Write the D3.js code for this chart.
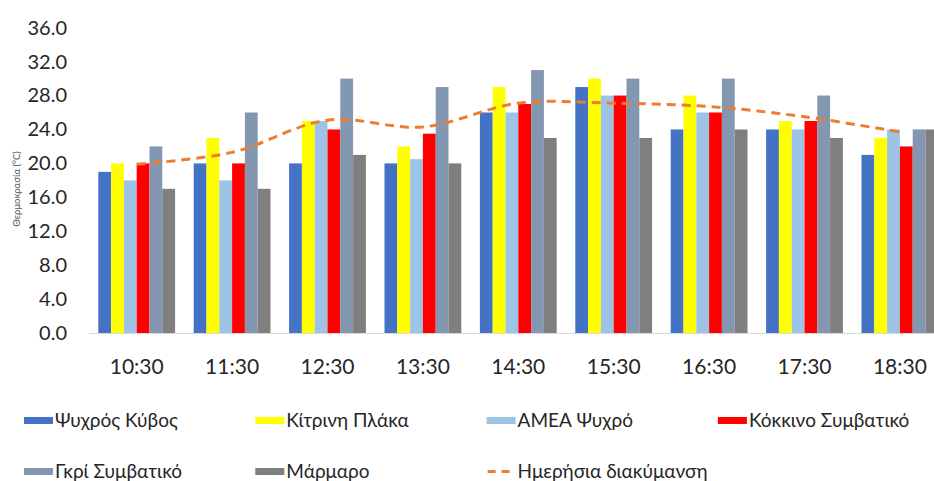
<!DOCTYPE html>
<html>
<head>
<meta charset="utf-8">
<script src="https://cdn.jsdelivr.net/npm/d3@7/dist/d3.min.js"></script>
<style>
  html, body { margin: 0; padding: 0; background: #fff; }
  svg { display: block; }
  text { font-family: Lato, "Noto Sans", sans-serif; fill: #262626; }
</style>
</head>
<body>
<svg id="chart" width="934" height="481"></svg>
<script>
// Hourly surface temperatures per material
const times = ["10:30", "11:30", "12:30", "13:30", "14:30", "15:30", "16:30", "17:30", "18:30"];
const seriesNames = ["Ψυχρός Κύβος", "Κίτρινη Πλάκα", "ΑΜΕΑ Ψυχρό", "Κόκκινο Συμβατικό", "Γκρί Συμβατικό", "Μάρμαρο"];
const psychrosKyvos    = [19, 20, 20, 20, 26, 29, 24, 24, 21];
const kitriniPlaka     = [20, 23, 25, 22, 29, 30, 28, 25, 23];
const ameaPsychro      = [18, 18, 25, 20.5, 26, 28, 26, 24, 24];
const kokkinoSymvatiko = [20, 20, 24, 23.5, 27, 28, 26, 25, 22];
const gkriSymvatiko    = [22, 26, 30, 29, 31, 30, 30, 28, 24];
const marmaro          = [17, 17, 21, 20, 23, 23, 24, 23, 24];
const imerisiaDiakymansi = [19.9, 21.3, 25.1, 24.3, 27.1, 27.1, 26.7, 25.5, 23.7];
const lineName = "Ημερήσια διακύμανση";
const yTicks = [0, 4, 8, 12, 16, 20, 24, 28, 32, 36];
const yTitle = "Θερμοκρασία (°C)";

const colors = ["#4472C4", "#FFFF00", "#9DC3E6", "#FF0000", "#8497B0", "#7F7F7F"];
const lineColor = "#ED7D31";

const seriesValues = [psychrosKyvos, kitriniPlaka, ameaPsychro, kokkinoSymvatiko, gkriSymvatiko, marmaro];
const table = times.map((t, i) => ({ time: t, values: seriesValues.map(s => s[i]) }));

const svg = d3.select("#chart");

const x0 = d3.scaleBand().domain(times).range([89, 947.6]).paddingInner(0.195).paddingOuter(0.0975);
const x1 = d3.scaleBand().domain(d3.range(seriesNames.length)).range([0, x0.bandwidth()]);
const y = d3.scaleLinear().domain([0, 36]).range([333, 27.7]);

// Y axis labels
const yAxis = svg.append("g").attr("transform", "translate(67,0)")
  .call(d3.axisLeft(y).tickValues(yTicks).tickFormat(d3.format(".1f")).tickSize(0).tickPadding(0));
yAxis.select(".domain").remove();
yAxis.selectAll("text").style("font-size", "20px").style("font-family", "Lato, 'Noto Sans', sans-serif").attr("fill", "#262626");

// Y title
svg.append("text")
  .attr("transform", "translate(20,189) rotate(-90)")
  .attr("text-anchor", "middle")
  .style("font-size", "9.5px")
  .style("fill", "#595959")
  .text(yTitle);

// Bars
const groups = svg.append("g").selectAll("g").data(table).join("g")
  .attr("transform", d => `translate(${x0(d.time)},0)`);
groups.selectAll("rect").data(d => d.values).join("rect")
  .attr("x", (d, i) => x1(i))
  .attr("width", x1.bandwidth())
  .attr("y", d => y(d))
  .attr("height", d => y(0) - y(d))
  .attr("fill", (d, i) => colors[i]);

// X axis
const xAxis = svg.append("g").attr("transform", `translate(0,${y(0)})`)
  .call(d3.axisBottom(x0).tickSize(0).tickPadding(26));
xAxis.select(".domain").attr("stroke", "#D9D9D9").attr("d", `M89,0.5H960`);
xAxis.selectAll("text").style("font-size", "21px").style("font-family", "Lato, 'Noto Sans', sans-serif").attr("fill", "#262626");

// Daily trend line
const line = d3.line()
  .x((d, i) => x0(times[i]) + x0.bandwidth() / 2)
  .y(d => y(d))
  .curve(d3.curveCatmullRom.alpha(0.5));
svg.append("path")
  .datum(imerisiaDiakymansi)
  .attr("d", line)
  .attr("fill", "none")
  .attr("stroke", lineColor)
  .attr("stroke-width", 3)
  .attr("stroke-dasharray", "9,6");

// Legend
const legendItems = seriesNames.map((n, i) => ({ name: n, color: colors[i], type: "rect" }))
  .concat([{ name: lineName, color: lineColor, type: "line" }]);
const colStep = 231.3, rowStep = 51;
const legend = svg.append("g").attr("transform", "translate(24,420.5)");
const items = legend.selectAll("g").data(legendItems).join("g")
  .attr("transform", (d, i) => `translate(${(i % 4) * colStep},${Math.floor(i / 4) * rowStep})`);
items.filter(d => d.type === "rect").append("rect")
  .attr("x", 0).attr("y", -3.5).attr("width", 29).attr("height", 7)
  .attr("fill", d => d.color);
items.filter(d => d.type === "line").append("line")
  .attr("x1", 1).attr("x2", 29).attr("y1", 0).attr("y2", 0)
  .attr("stroke", d => d.color).attr("stroke-width", 3).attr("stroke-dasharray", "8,6");
items.append("text")
  .attr("x", 31).attr("y", 0).attr("dy", "0.35em")
  .style("font-size", "19px")
  .text(d => d.name);
</script>
</body>
</html>
